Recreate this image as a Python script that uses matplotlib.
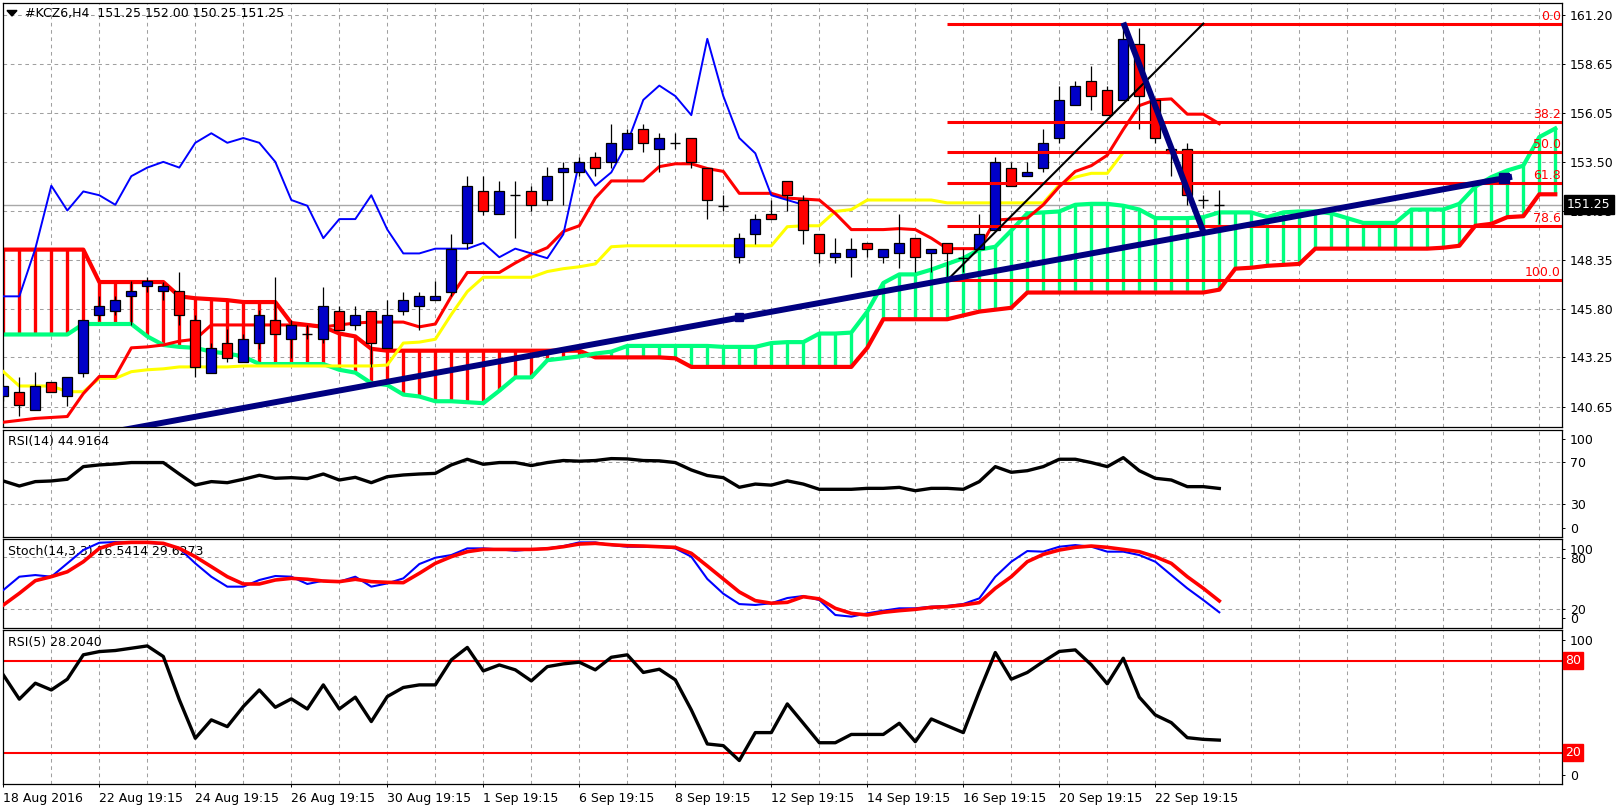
import matplotlib
matplotlib.use("Agg")
import matplotlib.pyplot as plt
from matplotlib.patches import Polygon

W, H = 1622, 811

# KCZ6 H4 candles (bar 0 = 18 Aug 2016)
opens = [141.25, 141.45, 140.50, 141.95, 141.25, 142.45, 145.45, 145.70, 146.45, 147.00,
         146.75, 146.75, 145.20, 142.45, 144.00, 143.00, 144.00, 145.20, 144.20, 144.45,
         144.20, 145.70, 144.95, 145.70, 143.75, 145.70, 145.95, 146.25, 146.70, 149.25,
         151.95, 150.75, 151.75, 151.95, 151.50, 152.95, 152.95, 153.75, 153.50, 154.20,
         155.20, 154.20, 154.50, 154.75, 153.20, 151.20, 148.50, 149.70, 150.75, 152.50,
         151.50, 149.70, 148.50, 148.50, 149.25, 148.50, 148.70, 149.50, 148.70, 149.25,
         148.45, 148.95, 149.95, 153.20, 152.75, 153.20, 154.75, 156.50, 157.75, 157.25,
         156.75, 159.70, 156.75, 154.20, 154.20, 151.50, 151.25]
highs = [141.80, 142.20, 142.50, 141.95, 142.20, 145.20, 146.45, 146.45, 147.25, 147.45,
         147.20, 147.75, 145.45, 144.00, 144.75, 144.50, 145.75, 147.45, 145.20, 144.95,
         146.95, 145.95, 145.95, 145.70, 146.25, 146.70, 146.70, 147.25, 149.70, 152.75,
         152.75, 152.50, 152.50, 152.25, 153.25, 153.50, 153.75, 154.00, 155.50, 155.20,
         155.50, 155.00, 155.00, 154.75, 153.20, 151.75, 149.75, 150.75, 151.50, 152.50,
         151.75, 149.70, 149.50, 149.50, 149.25, 148.95, 150.75, 149.50, 148.95, 149.25,
         148.95, 150.75, 153.75, 153.50, 153.50, 155.20, 157.50, 157.75, 158.50, 157.50,
         160.75, 160.50, 156.75, 154.20, 154.50, 151.75, 152.00]
lows = [140.95, 140.20, 140.50, 141.45, 140.70, 142.20, 145.20, 145.45, 144.95, 146.70,
        146.25, 144.95, 142.20, 142.45, 143.00, 143.00, 143.70, 144.45, 143.20, 144.20,
        144.00, 144.70, 144.70, 142.75, 143.75, 145.45, 144.70, 146.25, 146.45, 148.95,
        150.70, 150.75, 149.50, 150.95, 151.25, 151.25, 152.75, 152.75, 153.20, 154.20,
        154.00, 152.95, 154.20, 153.20, 150.50, 150.95, 148.20, 149.20, 150.50, 150.95,
        149.20, 148.20, 148.20, 147.45, 148.50, 148.20, 147.95, 147.70, 147.70, 147.30,
        147.70, 148.95, 149.95, 152.25, 152.75, 152.95, 154.50, 156.50, 156.20, 155.95,
        156.75, 155.20, 154.50, 152.75, 151.25, 151.10, 150.25]
closes = [141.75, 140.75, 141.75, 141.45, 142.20, 145.20, 145.95, 146.25, 146.75, 147.25,
          147.00, 145.45, 142.75, 143.75, 143.20, 144.20, 145.45, 144.45, 144.95, 144.45,
          145.95, 144.70, 145.45, 144.00, 145.45, 146.25, 146.45, 146.45, 148.95, 152.25,
          150.95, 151.95, 151.75, 151.25, 152.75, 153.20, 153.50, 153.20, 154.50, 155.00,
          154.50, 154.75, 154.50, 153.50, 151.50, 151.20, 149.50, 150.50, 150.50, 151.75,
          149.95, 148.70, 148.70, 148.95, 148.95, 148.95, 149.25, 148.50, 148.95, 148.70,
          148.45, 149.70, 153.50, 152.25, 152.95, 154.50, 156.75, 157.50, 156.95, 155.95,
          159.95, 156.95, 154.75, 153.95, 151.75, 151.50, 151.25]

# Ichimoku lines
tenkan = [139.85, 139.95, 140.05, 140.10, 140.15, 141.35, 142.25, 142.25, 143.75, 143.80,
          143.90, 144.10, 144.20, 144.95, 144.95, 144.95, 144.95, 144.95, 144.95, 144.95,
          144.85, 144.95, 145.05, 145.10, 145.10, 145.10, 144.85, 145.00, 146.45, 147.70,
          147.70, 147.70, 148.20, 148.65, 149.00, 149.85, 150.15, 151.60, 152.50, 152.50,
          152.50, 153.25, 153.40, 153.40, 153.15, 153.00, 151.85, 151.85, 151.85, 151.60,
          151.55, 151.50, 150.80, 149.95, 149.95, 149.95, 150.00, 149.95, 149.50, 148.95,
          148.95, 148.95, 150.45, 150.50, 150.55, 151.25, 152.20, 153.00, 153.30, 153.85,
          155.20, 156.45, 156.75, 156.80, 156.00, 156.00, 155.50]
kijun = [142.50, 141.75, 141.75, 141.75, 141.45, 141.45, 142.15, 142.15, 142.50, 142.60,
         142.65, 142.75, 142.75, 142.75, 142.75, 142.80, 142.80, 142.80, 142.80, 142.80,
         142.80, 142.80, 142.80, 142.80, 142.85, 144.00, 144.05, 144.20, 145.50, 146.70,
         147.45, 147.45, 147.45, 147.45, 147.75, 147.90, 148.00, 148.15, 149.05, 149.10,
         149.10, 149.10, 149.10, 149.10, 149.10, 149.10, 149.10, 149.10, 149.10, 150.10,
         150.15, 150.15, 150.90, 151.00, 151.50, 151.50, 151.50, 151.50, 151.50, 151.35,
         151.35, 151.35, 151.35, 151.35, 151.35, 151.35, 152.30, 152.70, 152.90, 152.90,
         154.00, 154.00, 154.00, 154.00, 154.00, 154.00, 154.00]
chikou = [146.45, 146.45, 148.95, 152.25, 150.95, 151.95, 151.75, 151.25, 152.75, 153.20,
          153.50, 153.20, 154.50, 155.00, 154.50, 154.75, 154.50, 153.50, 151.50, 151.20,
          149.50, 150.50, 150.50, 151.75, 149.95, 148.70, 148.70, 148.95, 148.95, 148.95,
          149.25, 148.50, 148.95, 148.70, 148.45, 149.70, 153.50, 152.25, 152.95, 154.50,
          156.75, 157.50, 156.95, 155.95, 159.95, 156.95, 154.75, 153.95, 151.75, 151.50,
          151.25]
span_a = [144.45, 144.45, 144.45, 144.45, 144.45, 145.00, 145.00, 145.00, 145.00, 144.35,
          143.90, 143.80, 143.75, 143.55, 143.45, 143.30, 142.90, 142.90, 142.90, 142.90,
          142.90, 142.60, 142.45, 141.90, 141.80, 141.30, 141.20, 140.95, 140.95, 140.90,
          140.85, 141.50, 142.20, 142.20, 143.10, 143.20, 143.30, 143.45, 143.55, 143.85,
          143.85, 143.85, 143.85, 143.85, 143.85, 143.80, 143.80, 143.80, 144.00, 144.05,
          144.05, 144.50, 144.50, 144.55, 145.65, 147.15, 147.60, 147.60, 147.85, 148.15,
          148.45, 148.90, 149.05, 149.90, 150.80, 150.85, 150.90, 151.25, 151.30, 151.30,
          151.20, 151.00, 150.55, 150.55, 150.55, 150.60, 150.85, 150.85, 150.85, 150.60,
          150.85, 150.90, 150.90, 150.80, 150.55, 150.30, 150.30, 150.30, 151.00, 151.00,
          151.00, 151.30, 152.20, 152.70, 153.05, 153.30, 154.80, 155.25]
span_b = [148.90, 148.90, 148.90, 148.90, 148.90, 148.90, 147.20, 147.20, 147.20, 147.20,
          147.20, 146.45, 146.35, 146.30, 146.25, 146.15, 146.15, 146.15, 145.05, 144.95,
          144.85, 144.50, 144.35, 143.70, 143.60, 143.60, 143.60, 143.60, 143.60, 143.60,
          143.60, 143.60, 143.60, 143.60, 143.60, 143.60, 143.60, 143.25, 143.25, 143.25,
          143.25, 143.25, 143.20, 142.75, 142.75, 142.75, 142.75, 142.75, 142.75, 142.75,
          142.75, 142.75, 142.75, 142.75, 143.75, 145.25, 145.25, 145.25, 145.25, 145.25,
          145.45, 145.65, 145.75, 145.85, 146.65, 146.65, 146.65, 146.65, 146.65, 146.65,
          146.65, 146.65, 146.65, 146.65, 146.65, 146.65, 146.80, 147.90, 147.95, 148.05,
          148.10, 148.15, 148.95, 148.95, 148.95, 148.95, 148.95, 148.95, 148.95, 148.95,
          149.00, 149.10, 150.15, 150.25, 150.60, 150.65, 151.80, 151.80]

# oscillators
rsi14 = [51.9, 47.2, 51.3, 51.9, 53.5, 65.3, 66.9, 67.8, 69.1, 69.1,
         69.1, 58.4, 48.1, 51.3, 50.3, 53.5, 57.2, 54.4, 55.0, 54.1,
         58.4, 52.8, 55.3, 50.3, 55.9, 57.5, 58.4, 59.0, 66.9, 72.2,
         67.5, 69.1, 69.1, 66.3, 69.1, 71.0, 70.4, 71.0, 72.8, 72.5,
         71.0, 70.7, 69.1, 62.2, 57.0, 55.0, 46.0, 49.0, 48.0, 52.0,
         49.0, 44.1, 44.1, 44.1, 45.0, 45.0, 45.9, 42.8, 45.0, 45.0,
         44.1, 51.3, 65.3, 60.0, 61.5, 65.3, 72.2, 72.2, 69.1, 65.3,
         73.7, 61.5, 54.4, 52.8, 46.6, 46.6, 44.9]
stoch_k = [42.2, 57.6, 59.5, 57.6, 73.0, 88.4, 96.8, 97.6, 96.8, 96.8,
           95.3, 90.3, 73.0, 57.6, 46.1, 46.1, 53.8, 58.4, 57.6, 49.2,
           53.0, 51.9, 57.6, 46.1, 49.9, 55.7, 72.2, 79.5, 82.6, 90.3,
           90.3, 89.1, 87.6, 89.1, 90.3, 92.9, 97.2, 97.2, 94.1, 92.2,
           92.2, 92.2, 90.3, 80.7, 55.0, 38.0, 26.0, 25.0, 27.0, 33.0,
           35.3, 30.7, 13.4, 11.5, 15.3, 18.4, 21.1, 21.1, 23.0, 23.8,
           26.1, 32.6, 57.6, 74.9, 87.2, 86.5, 92.2, 94.1, 92.2, 86.5,
           86.5, 82.6, 74.9, 59.5, 44.2, 30.7, 16.5]
stoch_d = [24.9, 38.4, 53.0, 57.6, 63.3, 74.9, 90.3, 96.1, 97.2, 97.2,
           96.1, 90.3, 80.7, 69.2, 57.6, 49.2, 49.2, 53.8, 55.7, 54.6,
           52.6, 51.9, 54.6, 51.9, 51.1, 50.7, 61.5, 73.0, 80.7, 86.5,
           89.1, 89.1, 89.1, 89.1, 89.9, 92.2, 95.3, 96.1, 94.5, 93.4,
           93.0, 92.2, 91.5, 84.6, 70.0, 55.0, 40.0, 30.0, 27.0, 28.0,
           34.5, 32.0, 21.1, 15.3, 13.4, 16.5, 18.4, 19.9, 22.2, 23.0,
           25.0, 27.7, 44.2, 57.6, 74.9, 83.4, 88.4, 91.5, 93.0, 91.5,
           89.1, 86.5, 80.7, 73.0, 57.6, 44.2, 29.6]
rsi5 = [70.7, 54.9, 65.3, 60.9, 67.9, 83.8, 85.9, 86.6, 88.1, 89.6,
        82.7, 54.5, 29.4, 41.4, 37.0, 50.1, 60.9, 49.6, 55.1, 48.5,
        64.2, 48.5, 56.2, 40.3, 56.6, 62.5, 64.2, 64.2, 80.5, 88.6,
        73.3, 77.2, 74.0, 66.8, 76.1, 77.9, 79.0, 74.0, 82.2, 83.8,
        72.3, 74.4, 67.5, 47.9, 25.7, 24.6, 14.9, 33.1, 33.1, 51.8,
        39.2, 26.5, 26.5, 31.9, 31.9, 31.9, 39.2, 27.2, 42.0, 37.5,
        33.1, 59.9, 85.3, 67.9, 72.3, 79.4, 86.0, 87.0, 77.3, 64.9,
        81.6, 56.2, 44.6, 39.6, 29.8, 28.7, 28.2]

# fibonacci retracement (anchored at bar 59 low -> bar 70 high)
fib_labels = ["0.0", "38.2", "50.0", "61.8", "78.6", "100.0"]
fib_prices = [160.75, 155.60, 154.00, 152.40, 150.15, 147.30]
fib_start = 59

# hand drawn trend lines (bar, price)
trend_up = ([-2.3, 94.3], [137.95, 152.72])
trend_down = ([70, 75], [160.80, 149.85])
trend_black = ([59, 75], [147.30, 160.75])

last_price = 151.25
price_ticks = [161.20, 158.65, 156.05, 153.50, 150.95, 148.35, 145.80, 143.25, 140.65]
date_bars = [0, 6, 12, 18, 24, 30, 36, 42, 48, 54, 60, 66, 72]
date_labels = ["18 Aug 2016", "22 Aug 19:15", "24 Aug 19:15", "26 Aug 19:15", "30 Aug 19:15",
               "1 Sep 19:15", "6 Sep 19:15", "8 Sep 19:15", "12 Sep 19:15", "14 Sep 19:15",
               "16 Sep 19:15", "20 Sep 19:15", "22 Sep 19:15"]

GRID = '#A0A0A0'
BULL = '#0000C8'
BEAR = '#FF0000'
GREEN = '#00FF7F'
NAVY = '#000080'
XMIN, XMAX = -0.02, 97.42
DASH = (0, (3.5, 3.5))


def px_rect(x0, y0, x1, y1):
    return [x0 / W, 1 - y1 / H, (x1 - x0) / W, (y1 - y0) / H]


plt.rcParams['font.family'] = ['DejaVu Sans']
fig = plt.figure(figsize=(W / 100, H / 100), dpi=100)
fig.patch.set_facecolor('white')

ax = fig.add_axes(px_rect(3, 2.5, 1562, 427))
ax_rsi = fig.add_axes(px_rect(3, 429.5, 1562, 536.5))
ax_st = fig.add_axes(px_rect(3, 538.5, 1562, 627.5))
ax_r5 = fig.add_axes(px_rect(3, 629.5, 1562, 784))

for a in [ax, ax_rsi, ax_st, ax_r5]:
    a.set_xlim(XMIN, XMAX)
    for s in a.spines.values():
        s.set_color('black')
        s.set_linewidth(0.9)
    a.tick_params(left=False, labelleft=False, bottom=False, labelbottom=False,
                  right=True, labelright=True, direction='out', length=2.5,
                  width=0.7, pad=3, labelsize=9, colors='black')
    for gx in range(3, 97, 3):
        a.axvline(gx, color=GRID, lw=0.75, ls=DASH, zorder=0)

# ---- main pane ----
ax.set_ylim(139.60, 161.855)
for p in price_ticks:
    ax.axhline(p, color=GRID, lw=0.75, ls=DASH, zorder=0)
ax.set_yticks(price_ticks)
ax.set_yticklabels([f'{p:.2f}' for p in price_ticks])
ax.axhline(last_price, color='#A8A8A8', lw=1.0, zorder=0.5)

cx = list(range(len(span_a)))
lo = [min(a_, b_) for a_, b_ in zip(span_a, span_b)]
hi = [max(a_, b_) for a_, b_ in zip(span_a, span_b)]
hatch_cols = [GREEN if a_ >= b_ else BEAR for a_, b_ in zip(span_a, span_b)]
ax.vlines(cx, lo, hi, colors=hatch_cols, lw=2.4, zorder=1)
ax.plot(cx, span_b, color=BEAR, lw=3.0, zorder=2)
ax.plot(cx, span_a, color=GREEN, lw=3.0, zorder=2)

bars = list(range(len(closes)))
ax.plot(bars, kijun, color='#FFFF00', lw=2.2, zorder=3)
ax.plot(bars, tenkan, color='#FF0000', lw=2.2, zorder=3)
ax.plot(range(len(chikou)), chikou, color='#0000FF', lw=1.4, zorder=3)

# candles
ax.vlines(bars, lows, highs, color='black', lw=0.9, zorder=4)
body_x = [i for i in bars if abs(closes[i] - opens[i]) > 0.01]
doji_x = [i for i in bars if abs(closes[i] - opens[i]) <= 0.01]
ax.bar(body_x, [closes[i] - opens[i] for i in body_x], bottom=[opens[i] for i in body_x],
       width=0.62, color=[BULL if closes[i] > opens[i] else BEAR for i in body_x],
       edgecolor='black', linewidth=0.9, zorder=5)
ax.hlines([closes[i] for i in doji_x], [i - 0.32 for i in doji_x], [i + 0.32 for i in doji_x],
          color='black', lw=1.0, zorder=5)

# fibonacci
ax.hlines(fib_prices, fib_start, XMAX, color='#FF0000', lw=2.2, zorder=6)
for lab, p in zip(fib_labels, fib_prices):
    ax.annotate(lab, xy=(1, p), xycoords=('axes fraction', 'data'), xytext=(-1, 4),
                textcoords='offset pixels', ha='right', va='baseline', color='#FF0000',
                fontsize=9, zorder=7)

# trend lines
ax.plot(*trend_black, color='black', lw=1.5, zorder=7)
ax.plot(*trend_up, color=NAVY, lw=4.3, solid_capstyle='butt', zorder=8)
ax.plot(*trend_down, color=NAVY, lw=4.3, solid_capstyle='butt', zorder=8)
ax.plot([46.0], [145.35], marker='s', ms=5.5, color=NAVY, zorder=8)
ax.plot([93.8], [152.66], marker='s', ms=7, color=NAVY, zorder=8)

ax.annotate(f'{last_price:.2f}', xy=(1, last_price), xycoords=('axes fraction', 'data'),
            xytext=(5, 0), textcoords='offset pixels', ha='left', va='center', color='white',
            fontsize=9, annotation_clip=False, zorder=10,
            bbox=dict(boxstyle='square,pad=0.25', fc='black', ec='black'))
ax.annotate('#KCZ6,H4  151.25 152.00 150.25 151.25', xy=(0, 1), xycoords='axes fraction',
            xytext=(22, -11.5), textcoords='offset pixels', ha='left', va='center',
            fontsize=9, zorder=9)
fig.add_artist(Polygon([[7 / W, 1 - 10.5 / H], [17 / W, 1 - 10.5 / H], [12 / W, 1 - 16 / H]],
                       closed=True, transform=fig.transFigure, color='black'))

# ---- RSI(14) ----
ax_rsi.set_ylim(0, 100)
for lv in [70, 30]:
    ax_rsi.axhline(lv, color=GRID, lw=0.75, ls=DASH, zorder=0)
ax_rsi.plot(bars, rsi14, color='black', lw=2.4, zorder=3)
ax_rsi.set_yticks([91.3, 70, 30, 8.4])
ax_rsi.set_yticklabels(["100", "70", "30", "0"])
ax_rsi.annotate('RSI(14) 44.9164', xy=(0, 1), xycoords='axes fraction', xytext=(4.5, -12.2),
                textcoords='offset pixels', ha='left', va='center', fontsize=9, zorder=1)

# ---- Stochastic ----
ax_st.set_ylim(-1.04, 101.7)
for lv in [80, 20]:
    ax_st.axhline(lv, color=GRID, lw=0.75, ls=DASH, zorder=0)
ax_st.annotate('Stoch(14,3,3) 16.5414 29.6273', xy=(0, 1), xycoords='axes fraction',
               xytext=(4.5, -13.2), textcoords='offset pixels', ha='left', va='center',
               fontsize=9, zorder=1)
ax_st.plot(bars, stoch_k, color='#0000FF', lw=1.5, zorder=3)
ax_st.plot(bars, stoch_d, color='#FF0000', lw=2.6, zorder=3)
ax_st.set_yticks([89.5, 79.5, 20.3, 9.9])
ax_st.set_yticklabels(["100", "80", "20", "0"])

# ---- RSI(5) ----
ax_r5.set_ylim(-0.4, 100.3)
for lv in [80, 20]:
    ax_r5.axhline(lv, color='#FF0000', lw=1.5, zorder=2)
    ax_r5.annotate(str(lv), xy=(1, lv), xycoords=('axes fraction', 'data'), xytext=(3, 0),
                   textcoords='offset pixels', ha='left', va='center', color='white',
                   fontsize=9, annotation_clip=False, zorder=10,
                   bbox=dict(boxstyle='square,pad=0.15', fc='#FF0000', ec='#FF0000'))
ax_r5.plot(bars, rsi5, color='black', lw=2.4, zorder=3)
ax_r5.set_yticks([93.5, 5.5])
ax_r5.set_yticklabels(["100", "0"])
ax_r5.annotate('RSI(5) 28.2040', xy=(0, 1), xycoords='axes fraction', xytext=(4.5, -12.8),
               textcoords='offset pixels', ha='left', va='center', fontsize=9, zorder=1)
ax_r5.set_xticks(date_bars)
ax_r5.set_xticklabels(date_labels, ha='left')
ax_r5.tick_params(bottom=True, labelbottom=True, length=2.5, pad=3)

fig.savefig('out.png', dpi=100, facecolor='white')
